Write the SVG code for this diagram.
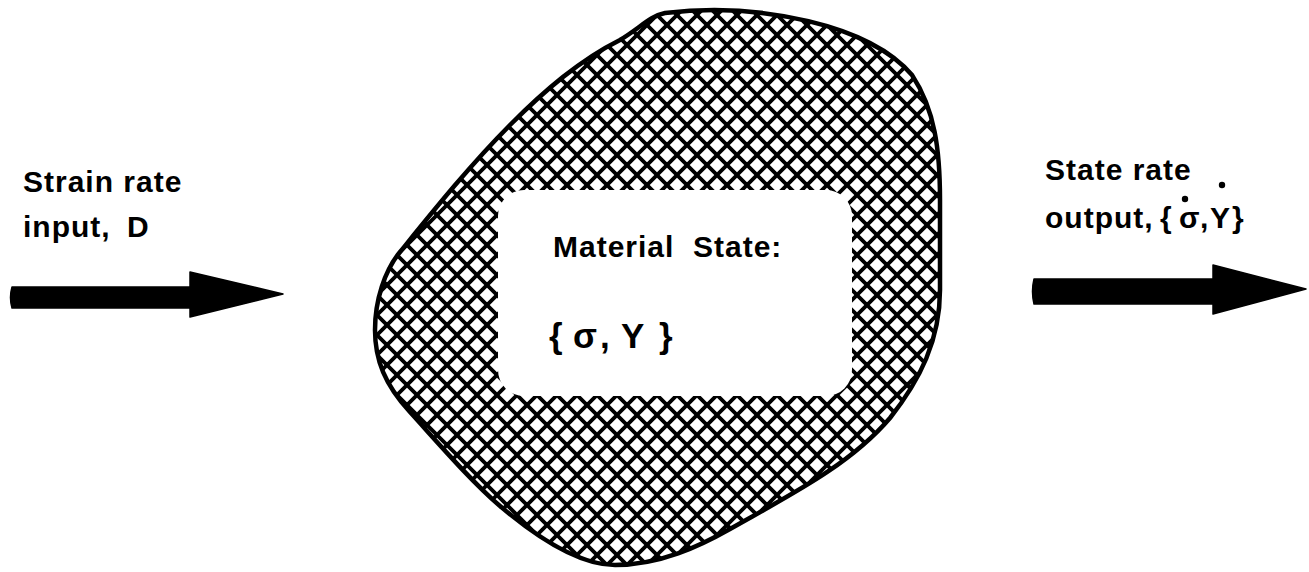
<svg xmlns="http://www.w3.org/2000/svg" width="1309" height="572" viewBox="0 0 1309 572">
  <style>
    .t { font-family: "Liberation Sans", Arial, Helvetica, sans-serif; font-size: 30px; font-weight: bold; fill: #000; letter-spacing: 1px; }
    .big { font-size: 35px; letter-spacing: 0; }
    .outline { fill: url(#hatch); stroke: #000; stroke-width: 4.5; stroke-linejoin: round; }
    .arrow { fill: #000; stroke: #000; stroke-width: 1.5; stroke-linejoin: round; }
    .dot { fill: #000; }
  </style>
  <defs>
    <pattern id="hatch" patternUnits="userSpaceOnUse" x="17" y="15" width="20" height="20">
      <rect width="20" height="20" fill="#fff"/>
      <path d="M0,0 L20,20 M20,0 L0,20 M-10,10 L10,-10 M10,30 L30,10 M-10,10 L10,30 M10,-10 L30,10" stroke="#000" stroke-width="3.8" fill="none"/>
    </pattern>
  </defs>
  <rect width="1309" height="572" fill="#fff"/>

  <g id="material-state">
    <path class="outline" d="M665,13 C760,2 870,25 912,75 C935,110 940,150 940,200 L940,290 C940,340 920,380 890,418 C850,465 790,495 730,529 C700,546 660,565 615,565 C580,565 540,540 500,506 C470,480 440,445 410,412 C385,385 375,360 375,330 C375,300 385,270 400,252 C430,215 470,165 510,125 C545,90 580,60 620,40 C640,28 650,16 665,13 Z"/>
    <rect x="498" y="190" width="354" height="206" rx="26" ry="26" fill="#fff"/>
    <text class="t"><tspan x="553" y="257">Material</tspan><tspan x="693" y="257">State:</tspan></text>
    <text class="t big"><tspan x="549" y="348">{</tspan><tspan x="573" y="348">σ</tspan><tspan x="600" y="348">,</tspan><tspan x="621" y="348">Y</tspan><tspan x="659" y="348">}</tspan></text>
  </g>

  <g id="input-label">
    <text class="t"><tspan x="23" y="192">Strain rate</tspan><tspan x="23" y="237">input,</tspan><tspan x="127" y="237">D</tspan></text>
  </g>

  <g id="output-label">
    <text class="t"><tspan x="1045" y="180">State rate</tspan><tspan x="1045" y="228">output,</tspan><tspan x="1160" y="228">{</tspan><tspan x="1179" y="228">σ</tspan><tspan x="1200" y="228">,</tspan><tspan x="1210" y="228">Y</tspan><tspan x="1232" y="228">}</tspan></text>
    <circle class="dot" cx="1185" cy="199" r="3.2"/>
    <circle class="dot" cx="1222" cy="185" r="3.2"/>
  </g>

  <g id="connectors">
    <path class="arrow" d="M12,287 L190,287 L190,272 L283,294 L190,317 L190,308 L12,308 Q9,297.5 12,287 Z"/>
    <path class="arrow" d="M1034,279 L1213,279 L1213,265 L1306,289 L1213,314 L1213,304 L1034,304 Q1031,291.5 1034,279 Z"/>
  </g>
</svg>
